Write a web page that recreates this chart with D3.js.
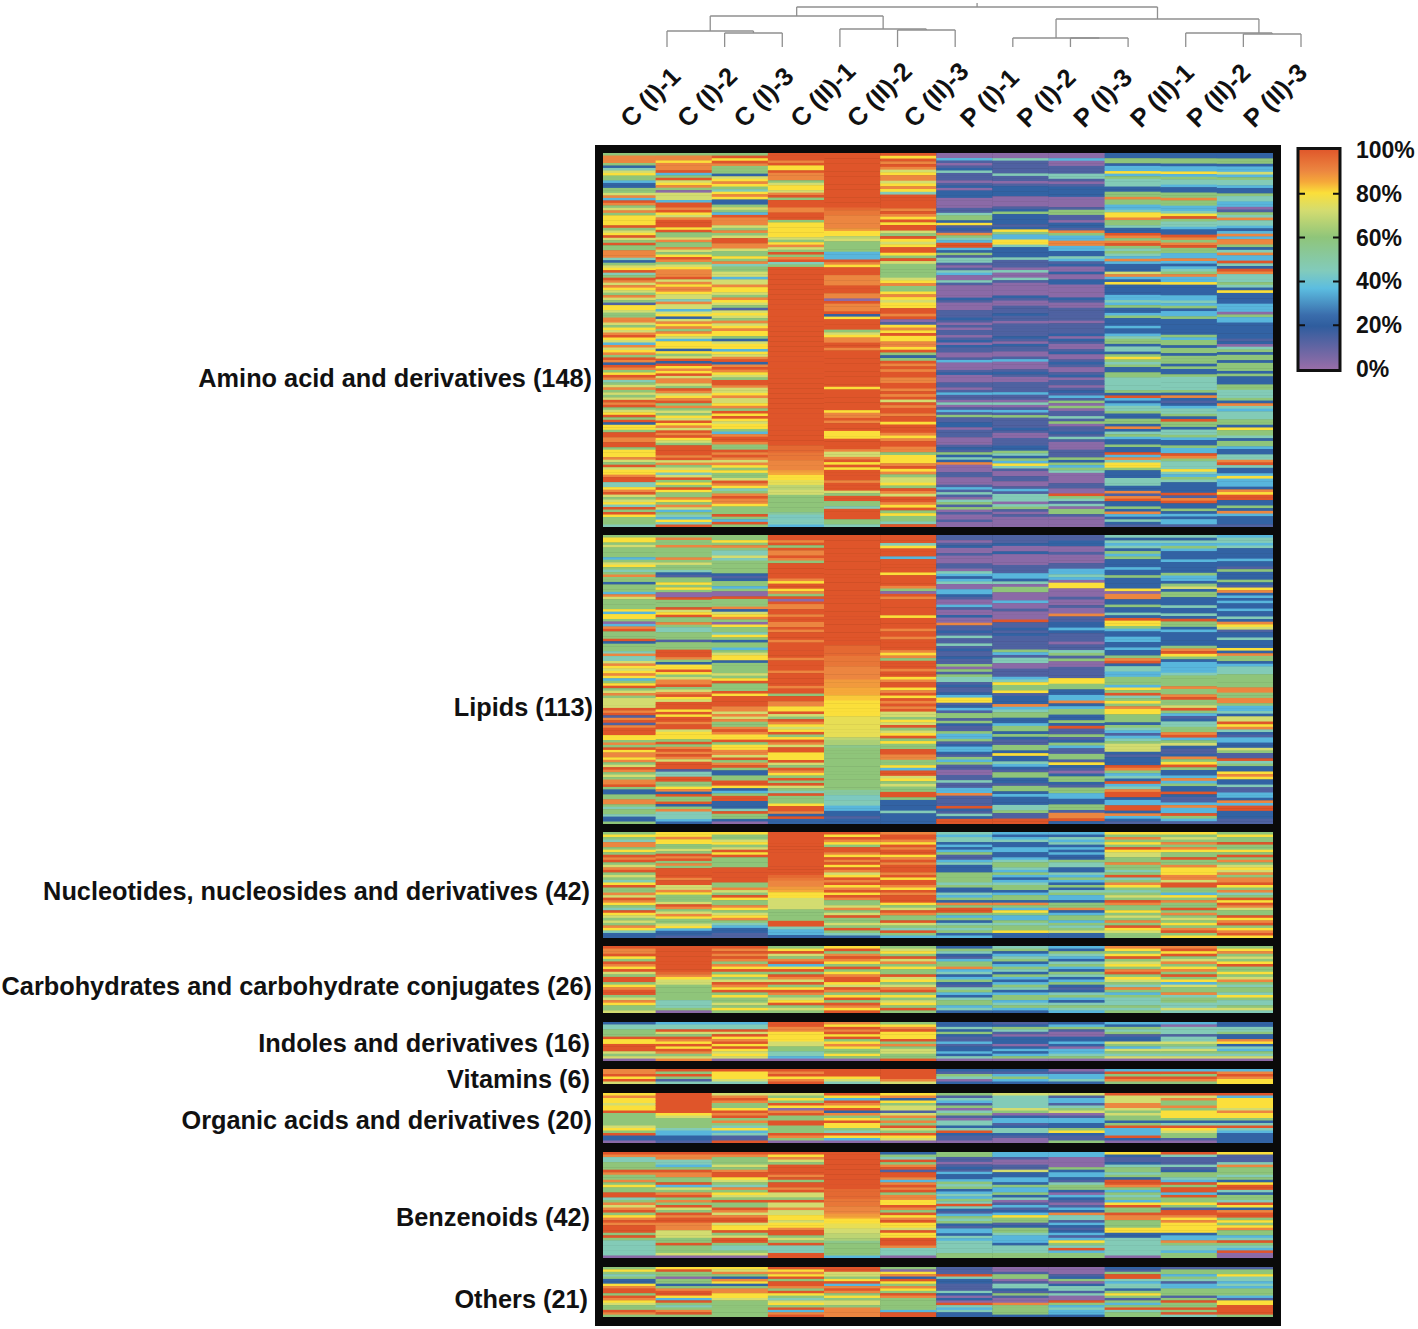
<!DOCTYPE html>
<html>
<head>
<meta charset="utf-8">
<title>Metabolite heatmap</title>
<style>
body { margin: 0; background: #fff; }
text { font-family: "Liberation Sans", Arial, sans-serif; font-weight: bold; fill: #111; }
</style>
</head>
<body>
<script src="https://d3js.org/d3.v7.min.js"></script>
<script>
var samples = ["C (I)-1","C (I)-2","C (I)-3","C (II)-1","C (II)-2","C (II)-3","P (I)-1","P (I)-2","P (I)-3","P (II)-1","P (II)-2","P (II)-3"];
var groupNames = ["Amino acid and derivatives (148)","Lipids (113)","Nucleotides, nucleosides and derivatives (42)","Carbohydrates and carbohydrate conjugates (26)","Indoles and derivatives (16)","Vitamins (6)","Organic acids and derivatives (20)","Benzenoids (42)","Others (21)"];
var legendTicks = [100,80,60,40,20,0];

// one char per metabolite, top to bottom (see levelPct)
var levelPct = {"0":3,"1":14,"2":22,"3":36,"4":46,"5":60,"6":72,"7":80,"8":90,"9":100,a:96,b:93,c:87,d:85,e:82,f:76,g:68,h:65,i:56,j:52,k:44};

var amino = [
"588852467553225568398568577779567965955888425679459868765865177655886576897638678598298579845685656989567959277599889957778659677899447896567495975554",
"5887888935967850666399897689997955685586579856788896878876648663672687858763777275692978796886598678958565769786989765999989685674695759755875863543749",
"5979855526787547872256539888658569988655758455663668776587651676586787752677376892898765998667866785979767753899855989868757556987458988755595395",
"9998977988856776895999889995777777657865958945"+"999999999999999999999999999999999999999999999999999999999999999999999999"+"aaabbb8888cd"+"77ffgg665555555jkk443",
"999999999999999999999a"+"bb88888c"+"77g65555"+"333"+"987999888899988098889279999567889989999999999999979999999978898999777999986689797999989996599554"+"9999554",
"979898678867874999998987979965976799759655555678"+"557876779989017879778879525989899889989896989989979998789988577789785667598699879575549",
"003101241110120222000011455271218543993251441014300"+"410000021000111210101101202110013000120001101311040131511220111000121524280001100013141045150100100",
"0041111141101222200001252222127533774222241110400"+"41000002100111211011111210211001300012100111131104013151111210011122542537410011001314440451010000",
"0030011144101222200001551102218533883322431200200"+"220000021001111101111202100120012100120110121315050114150112141000111525354000011009541405510000",
"2255233735444225585533477855422985895"+"4543832226"+"83272222334352235222322345524425754522554444452932344522552824532252293847752224442281892252832421",
"2255233735443225585533479544322985895533832345"+"833722223343523352222225355255255525225444445282123445295524453225339854447435422229189225232331",
"225523363544322544330154844323838852483394298444"+"5427222233305332222221204525525552522255444528434445527554255322448942237333287992252832221"
];

var lipids = [
"577565555356754585525553865555737750389555925554844687678735795685666698918918999775859788785698565889522558854554225",
"58558555585655421557575009555967955854455515559998527797568895689769997979989967775958989869991449955782955925844432",
"55758544645555521255350095558267850755475255356772555565795559799998868685589877957788695895225599723599222495520",
"99895988985999999879978590988998998898999899999989999899999899599887796598767957986997779659875959654955579982922",
"999999999999999999999999999999999999999999"+"aaaabbbb88888cccdddee"+"777777ffffffff"+"ghhi5555555555555555jjkk"+"4433"+"22122",
"999479993999997999985098999999799998998999987859998997899789798989665769567957559988557399675655995222242222",
"1101200100011043234003321003100200811214114121121150515441211237712315515211533512332153511001141133811119214299",
"1112002000011133240550003001000911212111115314400111347557122283455223552521155272243215522155232224451199",
"1122001000113343077000100100811223211101145150011117755223382355225291151253115517210255215533225518892",
"424342535222322522227088225224297753223322322589244335553759457587755525431345666212229853429348992339928321",
"42435322232222533256255222422429552322222589752333345555855895569531244558935621128579522383522921138339531",
"34434222232215222521782323223224287612242227285523444555558855885334266978421332265119452278722411332839922211"
];

var nucleotides = [
"575488575989568956547955869875497656587422",
"77877556598958599998996687555698568755673221",
"755675697955559999995586597558756785432211",
"999999999999999ab88cd7766665555994332",
"979875998798979867989789798556856955659542",
"899879899789899989799879899975698559654953",
"434423235113422255554522435285995352454523",
"323422332234554353234552355285375335455722",
"324342323225442243532524533255823553545622",
"758575976655855459458754565985575658597655",
"756585875595587778869955375855958565758957",
"575595575958567685889758459798655978957897"
];

var carbs = [
"98897598796599578995687556",
"9999999999a876655555544450",
"98989858795756987957556575",
"57965893795986957985679565",
"79589875957899769857959879",
"56759685755967568957567595",
"25421355834235214532455342",
"45234523542532354235534532",
"32543245325423521245324543",
"87579567589576548535444545",
"89795685785957365584554464",
"57856579557568545547544564"
];

var indoles = [
"2445559779996560",
"3449659879798568",
"3449697897976760",
"9988777766554430",
"8798979578755750",
"5789777958566559",
"2242521131223240",
"1254102220232350",
"2351002232033450",
"3254512265365460",
"3044414465465460",
"2244522872435460"
];

var vitamins = ["889796","959514","977764","989789","999764","999986","215402","213532","013342","395985","395985","389877"];

var organics = [
"78776779555556759220",
"99999999765555433221",
"68985579895854734119",
"65759708955995559850",
"97398792857977549730",
"78275661685859659760",
"51431504510442492110",
"64444465023312442100",
"61331456013322572115",
"96668865655259333920",
"96855857775249765510",
"93777768775249432222"
];

var benzenoids = [
"984455598558575599458689578989995954444440",
"988443598855936589585965989988866655955560",
"985556589976548576595598689967795699544560",
"978659999895998966596686677677899565944499",
"999999999999999aaaabbb888cd77ff66gghi555553",
"254958919983898958877985978977697799984440",
"5511012132235452343549421354521332434444455",
"331001162233253352401312375512554333244455",
"330000523321455203210132844132123137549355",
"721124554529985354537955988555772244444440",
"941114125543959939557519987877772338544355",
"711148555452799425549728995757855349543900"
];

var others = [
"575452278995987655985",
"795505525899739545895",
"768528725887765555555",
"978795998597546759389",
"996657938985756658888",
"507829758759855555399",
"111942211142020943422",
"001550144215100855552",
"000125024414009534332",
"215994344257515359455",
"155354133555159559594",
"155744343555317799995"
];

var groups = [amino, lipids, nucleotides, carbs, indoles, vitamins, organics, benzenoids, others];

// layout
var groupBands = [[153,527],[535,824],[832,938],[946,1013],[1022,1061],[1069,1084],[1093,1143],[1152,1258],[1267,1317]];
var labelY = [378,707,891,986,1043,1079,1120,1217,1299];
var labelRight = [592,593,590,592,590,590,592,590,588];

var colorStops = [0,20,25,37,45,60,72,80,85,90,100];
var colorRange = ["#9b6ea8","#2f5d9e","#3a6dac","#5cbde0","#82cbbb","#8fc57a","#d3dc70","#fbdf3a","#f5a83a","#ec8640","#df552a"];
var color = d3.scaleLinear().domain(colorStops).range(colorRange);

var svg = d3.select("body").append("svg")
    .attr("width", 1418)
    .attr("height", 1329)
    .style("display", "block");

var defs = svg.append("defs");
defs.append("filter").attr("id", "soft")
    .append("feGaussianBlur").attr("stdDeviation", 0.6);

// black background behind the cells
svg.append("rect")
    .attr("x", 595).attr("y", 145)
    .attr("width", 686).attr("height", 1181)
    .attr("fill", "#0a0a0a");

// first column starts under the frame, so it looks a bit narrower
var x = d3.scaleBand().domain(samples).range([599.5, 1273]);

var heat = svg.append("g").attr("filter", "url(#soft)");
groups.forEach(function(columns, g) {
    var gG = heat.append("g").attr("class", "group");
    columns.forEach(function(col, c) {
        // each column spans its group band, row by row
        var rows = col.split("");
        var y = d3.scaleBand().domain(d3.range(rows.length)).range(groupBands[g]);
        gG.append("g")
            .selectAll("rect")
            .data(rows)
            .enter()
            .append("rect")
            .attr("x", x(samples[c]))
            .attr("width", x.bandwidth() + (c < 11 ? 0.4 : 0))
            .attr("y", function(d, i) { return y(i); })
            .attr("height", function(d, i) { return y.bandwidth() + (i < rows.length - 1 ? 0.5 : 0); })
            .attr("fill", function(d) { return color(levelPct[d]); });
    });
});

// frame on top
svg.append("rect")
    .attr("x", 599).attr("y", 149)
    .attr("width", 678).attr("height", 1173)
    .attr("fill", "none")
    .attr("stroke", "#0a0a0a")
    .attr("stroke-width", 8);

// group labels
svg.append("g")
    .selectAll("text")
    .data(groupNames)
    .enter()
    .append("text")
    .attr("x", function(d, i) { return labelRight[i]; })
    .attr("y", function(d, i) { return labelY[i]; })
    .attr("dy", "0.35em")
    .attr("text-anchor", "end")
    .attr("font-size", 25.3)
    .text(function(d) { return d; });

// sample labels
var labelX = d3.scalePoint().domain(samples).range([631, 1254]);
svg.append("g")
    .selectAll("text")
    .data(samples)
    .enter()
    .append("text")
    .attr("transform", function(d) {
        return "translate(" + labelX(d) + ",129) rotate(-45)";
    })
    .attr("font-size", 25.5)
    .text(function(d) { return d; });

// dendrogram: [node id, children, merge height, optional x in sample units]
var dendroNodes = [
    ["a", ["1","2"], 14],
    ["b", [0,"a"], 16],
    ["c", [4,5], 17],
    ["d", [3,"c"], 18],
    ["e", ["b","d"], 31],
    ["f", [7,8], 9],
    ["g", [6,"f"], 9],
    ["h", [10,11], 13],
    ["i", [9,"h"], 14, 10.27],
    ["j", ["g","i"], 28],
    ["k", ["e","j"], 40]
];
var dx = d3.scaleLinear().domain([0, 11]).range([667, 1301]);
var dy = d3.scaleLinear().domain([0, 44]).range([47, 3]);
var nodes = {};
d3.range(12).forEach(function(i) { nodes[i] = {x: i, h: 0}; });
var dendroLines = [];
dendroNodes.forEach(function(n) {
    var kids = n[1].map(function(k) { return nodes[k]; });
    nodes[n[0]] = {x: n[3] !== undefined ? n[3] : d3.mean(kids, function(k) { return k.x; }), h: n[2]};
    dendroLines.push([kids[0].x, kids[1].x, n[2], n[2]]);
    kids.forEach(function(k) { dendroLines.push([k.x, k.x, k.h, n[2]]); });
});
dendroLines.push([nodes.k.x, nodes.k.x, 40, 44]);
svg.append("g")
    .selectAll("line")
    .data(dendroLines)
    .enter()
    .append("line")
    .attr("x1", function(d) { return dx(d[0]); })
    .attr("x2", function(d) { return dx(d[1]); })
    .attr("y1", function(d) { return dy(d[2]); })
    .attr("y2", function(d) { return dy(d[3]); })
    .attr("stroke", "#8f8f8f")
    .attr("stroke-width", 1.3);

// colour legend
var legendY = d3.scaleLinear().domain([0, 100]).range([369, 150]);
var grad = defs.append("linearGradient").attr("id", "legendGrad")
    .attr("x1", 0).attr("x2", 0).attr("y1", 1).attr("y2", 0);
colorStops.forEach(function(s, i) {
    grad.append("stop").attr("offset", s + "%").attr("stop-color", colorRange[i]);
});
svg.append("rect")
    .attr("x", 1298).attr("y", legendY(100) - 1.5)
    .attr("width", 42).attr("height", legendY(0) - legendY(100) + 3)
    .attr("fill", "url(#legendGrad)")
    .attr("stroke", "#111")
    .attr("stroke-width", 3);
var tick = svg.append("g").selectAll("g")
    .data(legendTicks)
    .enter()
    .append("g")
    .attr("transform", function(d) { return "translate(0," + legendY(d) + ")"; });
tick.filter(function(d) { return d > 0 && d < 100; }).append("path")
    .attr("d", "M1298,0H1305M1333,0H1340")
    .attr("stroke", "#111")
    .attr("stroke-width", 2);
tick.append("text")
    .attr("x", 1356)
    .attr("dy", "0.35em")
    .attr("font-size", 23)
    .text(function(d) { return d + "%"; });
</script>
</body>
</html>
